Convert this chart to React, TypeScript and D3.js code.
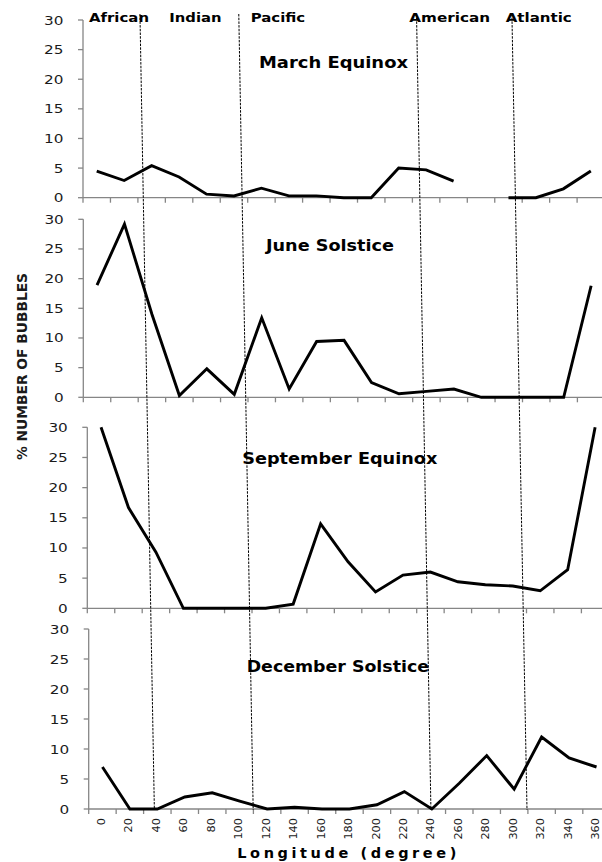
import React from 'react';
import * as d3 from 'd3';

// Longitude bins (degrees)
const longitudes = [0, 20, 40, 60, 80, 100, 120, 140, 160, 180, 200, 220, 240, 260, 280, 300, 320, 340, 360];

// % number of bubbles per longitude bin, one series per season
const marchEquinox: (number | null)[] = [4.5, 2.9, 5.4, 3.5, 0.6, 0.3, 1.6, 0.3, 0.3, 0, 0, 5.0, 4.7, 2.8, null, 0, 0, 1.5, 4.5];
const juneSolstice: (number | null)[] = [18.9, 29.2, 14, 0.3, 4.8, 0.5, 13.4, 1.4, 9.4, 9.6, 2.5, 0.6, 1.0, 1.4, 0, 0, 0, 0, 18.8];
const septemberEquinox: (number | null)[] = [30, 16.7, 9.3, 0, 0, 0, 0, 0.7, 14, 7.7, 2.7, 5.5, 6.0, 4.4, 3.9, 3.7, 2.9, 6.4, 30];
const decemberSolstice: (number | null)[] = [7, 0, 0, 2, 2.7, 1.3, 0, 0.3, 0, 0, 0.7, 2.9, 0, 4.3, 8.9, 3.3, 12, 8.5, 7];

const yTicks = [0, 5, 10, 15, 20, 25, 30];

// Ocean sector names and the longitudes of the sector boundaries (top end, bottom end)
const oceanNames = ['African', 'Indian', 'Pacific', 'American', 'Atlantic'];
const boundaryTopLon = [31.5, 103.5, 233, 302.5];
const boundaryBottomLon = [42, 114, 243.5, 313.5];

// Layout
const W = 602;
const H = 862;
const STEP = 27.45;
const AXIS = '#868686';
const FONT = '"DejaVu Sans", Verdana, sans-serif';

const panels = [
  { title: 'March Equinox', values: marchEquinox, left: 83, top: 20, bottom: 197.7, titleX: 259, titleY: 68.3, titleLen: 149 },
  { title: 'June Solstice', values: juneSolstice, left: 83.3, top: 219.3, bottom: 397.3, titleX: 266, titleY: 250.7, titleLen: 128 },
  { title: 'September Equinox', values: septemberEquinox, left: 87.3, top: 427.3, bottom: 608.3, titleX: 242.3, titleY: 464, titleLen: 195 },
  { title: 'December Solstice', values: decemberSolstice, left: 88.7, top: 629, bottom: 809, titleX: 246.7, titleY: 672.3, titleLen: 182.3 },
];

const oceanLabelLayout = [
  { x: 89, len: 60 },
  { x: 169.3, len: 52.3 },
  { x: 250.7, len: 54.5 },
  { x: 409.3, len: 80.7 },
  { x: 505.7, len: 66 },
];

function Panel({ p, showXLabels }: { p: typeof panels[number]; showXLabels: boolean }) {
  const x = d3
    .scaleBand<string>()
    .domain(longitudes.map(String))
    .range([p.left, p.left + STEP * longitudes.length])
    .padding(0);
  const bw = x.bandwidth();
  const cx = (i: number) => (x(String(longitudes[i])) as number) + bw / 2;
  const y = d3.scaleLinear().domain([0, 30]).range([p.bottom, p.top]);

  const line = d3
    .line<number | null>()
    .defined((d) => d != null)
    .x((_, i) => cx(i))
    .y((d) => y(d as number));

  const right = p.left + STEP * longitudes.length;
  const boundaries = [...longitudes.map((l) => x(String(l)) as number), right];

  return (
    <g>
      {/* y axis */}
      <line x1={p.left} x2={p.left} y1={y(30)} y2={y(0)} stroke={AXIS} strokeWidth={1.3} />
      {yTicks.map((t) => (
        <g key={t}>
          <line x1={p.left - 5} x2={p.left} y1={y(t)} y2={y(t)} stroke={AXIS} strokeWidth={1.3} />
          <text
            transform={`translate(${p.left - 19.5},${y(t)}) scale(1.22,1)`}
            dy="0.36em"
            textAnchor="end"
            fontFamily={FONT}
            fontSize={12.5}
            fill="#1a1a1a"
          >
            {t}
          </text>
        </g>
      ))}
      {/* x axis */}
      <line x1={p.left} x2={right} y1={y(0)} y2={y(0)} stroke={AXIS} strokeWidth={1.3} />
      {boundaries.map((bx, i) => (
        <line key={i} x1={bx} x2={bx} y1={y(0)} y2={y(0) + 5} stroke={AXIS} strokeWidth={1.3} />
      ))}
      {showXLabels &&
        longitudes.map((l, i) => (
          <text
            key={l}
            transform={`translate(${cx(i) - 1.5},${y(0) + 9}) rotate(-90)`}
            dy="0.36em"
            textAnchor="end"
            fontFamily={FONT}
            fontSize={11.3}
            fill="#1a1a1a"
          >
            {l}
          </text>
        ))}
      {/* series */}
      <path d={line(p.values) || ''} fill="none" stroke="#000" strokeWidth={2.9} strokeLinejoin="miter" />
      <text
        x={p.titleX}
        y={p.titleY}
        fontFamily={FONT}
        fontWeight="bold"
        fontSize={15}
        textLength={p.titleLen}
        lengthAdjust="spacingAndGlyphs"
        fill="#000"
      >
        {p.title}
      </text>
    </g>
  );
}

export default function App() {
  // sector boundary lines are placed on the top panel's longitude scale
  const p0 = panels[0];
  const lon = d3
    .scaleLinear()
    .domain([0, 360])
    .range([p0.left + STEP / 2, p0.left + STEP / 2 + STEP * 18]);

  return (
    <div style={{ position: 'absolute', left: 0, top: 0 }}>
      <svg width={W} height={H} style={{ display: 'block', background: '#fff' }}>
        {panels.map((p, i) => (
          <Panel key={p.title} p={p} showXLabels={i === panels.length - 1} />
        ))}
        {boundaryTopLon.map((t, i) => (
          <line
            key={i}
            x1={lon(t)}
            y1={14}
            x2={lon(boundaryBottomLon[i])}
            y2={810}
            stroke="#000"
            strokeWidth={1}
            strokeDasharray="2.5 1.2"
          />
        ))}
        {oceanNames.map((name, i) => (
          <text
            key={name}
            x={oceanLabelLayout[i].x}
            y={22}
            fontFamily={FONT}
            fontWeight="bold"
            fontSize={13}
            textLength={oceanLabelLayout[i].len}
            lengthAdjust="spacingAndGlyphs"
            fill="#000"
          >
            {name}
          </text>
        ))}
        <text
          transform="translate(26.5,460) rotate(-90)"
          fontFamily={FONT}
          fontWeight="bold"
          fontSize={14}
          textLength={187}
          lengthAdjust="spacingAndGlyphs"
          fill="#1a1a1a"
        >
          % NUMBER OF BUBBLES
        </text>
        <text
          x={237.3}
          y={858}
          fontFamily={FONT}
          fontWeight="bold"
          fontSize={14.5}
          textLength={219}
          lengthAdjust="spacing"
          fill="#000"
        >
          Longitude (degree)
        </text>
      </svg>
    </div>
  );
}
